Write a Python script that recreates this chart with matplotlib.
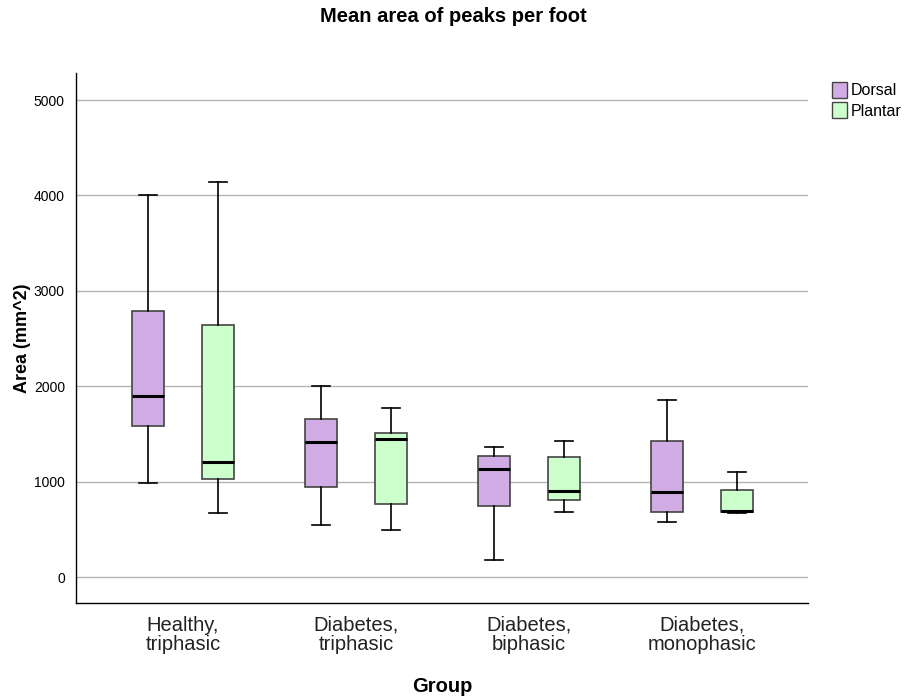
import matplotlib.pyplot as plt
from matplotlib.patches import Patch

plt.rcParams["font.family"] = ["Liberation Sans", "DejaVu Sans"]

groups = ["Healthy,\ntriphasic", "Diabetes,\ntriphasic", "Diabetes,\nbiphasic", "Diabetes,\nmonophasic"]

# five-number summaries per group: (low whisker, Q1, median, Q3, high whisker)
dorsal = [
    (988, 1586, 1900, 2788, 4000),
    (548, 947, 1412, 1656, 2005),
    (175, 747, 1129, 1268, 1366),
    (577, 681, 891, 1429, 1855),
]
plantar = [
    (674, 1030, 1209, 2641, 4137),
    (496, 762, 1450, 1512, 1775),
    (684, 807, 905, 1255, 1429),
    (675, 683, 695, 912, 1098),
]

dorsal_color = "#d2ace4"
plantar_color = "#ccffcc"


def to_stats(rows):
    return [dict(whislo=r[0], q1=r[1], med=r[2], q3=r[3], whishi=r[4], fliers=[]) for r in rows]


fig = plt.figure(figsize=(9.06, 6.98), dpi=100)
ax = fig.add_axes([0.0839, 0.1361, 0.8079, 0.7593])

pos = list(range(len(groups)))
off = 0.202
for stats, shift, color in [(dorsal, -off, dorsal_color), (plantar, off, plantar_color)]:
    ax.bxp(to_stats(stats), positions=[p + shift for p in pos], widths=0.185,
           patch_artist=True, showfliers=False,
           boxprops=dict(facecolor=color, edgecolor="#444444", linewidth=1.2),
           medianprops=dict(color="black", linewidth=2.2),
           whiskerprops=dict(color="black", linewidth=1.2),
           capprops=dict(color="black", linewidth=1.2),
           capwidths=0.1, zorder=3)

ax.set_xlim(-0.618, 3.613)
ax.set_ylim(-272, 5283)
ax.set_yticks([0, 1000, 2000, 3000, 4000, 5000])
ax.set_xticks(pos)
ax.set_xticklabels(groups, fontsize=14.5, color="#222222", linespacing=1.0)
ax.tick_params(axis="x", length=0, pad=9)
ax.tick_params(axis="y", labelsize=10, length=0, pad=8)
ax.yaxis.grid(True, color="#b4b4b4", linewidth=1.0, zorder=0)
ax.set_axisbelow(True)
for s in ["top", "right"]:
    ax.spines[s].set_visible(False)
for s in ["left", "bottom"]:
    ax.spines[s].set_color("black")
    ax.spines[s].set_linewidth(1.0)

ax.set_ylabel("Area (mm^2)", fontsize=13, fontweight="bold", labelpad=2)
ax.set_xlabel("Group", fontsize=14.5, fontweight="bold", labelpad=17)
fig.suptitle("Mean area of peaks per foot", fontsize=14.5, fontweight="bold", y=0.99)

handles = [Patch(facecolor=dorsal_color, edgecolor="#444444", label="Dorsal"),
           Patch(facecolor=plantar_color, edgecolor="#444444", label="Plantar")]
fig.legend(handles=handles, loc="upper left", bbox_to_anchor=(0.910, 0.894),
           frameon=False, fontsize=11.5, handlelength=0.94, handleheight=1.15,
           handletextpad=0.19, labelspacing=0.25, borderpad=0)

fig.savefig("out.png", dpi=100)
